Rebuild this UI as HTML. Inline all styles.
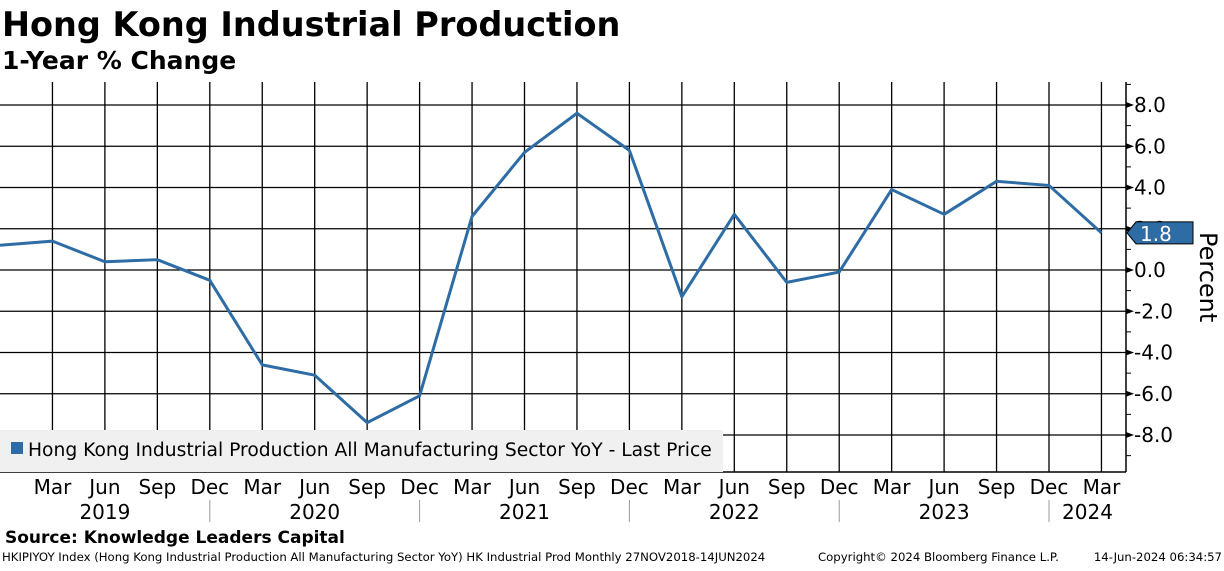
<!DOCTYPE html>
<html><head><meta charset="utf-8"><style>
body{margin:0;background:#fff;width:1224px;height:566px;overflow:hidden;font-family:"Liberation Sans","DejaVu Sans",sans-serif}
</style></head><body>
<svg width="1224" height="566" xmlns="http://www.w3.org/2000/svg">
<text x="2" y="36" font-size="33.5" font-weight="bold" font-family="DejaVu Sans, sans-serif">Hong Kong Industrial Production</text>
<text x="2" y="69" font-size="25" font-weight="bold" font-family="DejaVu Sans, sans-serif">1-Year % Change</text>
<g id="grid"></g>
<g id="xaxis"></g>
<g id="yaxis"></g>
<rect x="0" y="430" width="723" height="42" fill="#f0f0f0"/>
<rect x="11" y="442" width="12" height="12" fill="#2e6ca6"/>
<text x="28" y="456" font-size="18.7" font-family="DejaVu Sans, sans-serif">Hong Kong Industrial Production All Manufacturing Sector YoY - Last Price</text>
<g id="series"></g>
<text x="5" y="543" font-size="17" font-weight="bold" font-family="DejaVu Sans, sans-serif">Source: Knowledge Leaders Capital</text>
<text x="2" y="561" font-size="11.7" font-family="DejaVu Sans, sans-serif">HKIPIYOY Index (Hong Kong Industrial Production All Manufacturing Sector YoY) HK Industrial Prod  Monthly 27NOV2018-14JUN2024</text>
<text x="818" y="561" font-size="11.7" font-family="DejaVu Sans, sans-serif">Copyright© 2024 Bloomberg Finance L.P.</text>
<text x="1222" y="561" font-size="11.7" text-anchor="end" font-family="DejaVu Sans, sans-serif">14-Jun-2024 06:34:57</text>
<text transform="translate(1200,232) rotate(90)" font-size="24" font-family="DejaVu Sans, sans-serif">Percent</text>
</svg>
<script>
const quarters=["Dec","Mar","Jun","Sep","Dec","Mar","Jun","Sep","Dec","Mar","Jun","Sep","Dec","Mar","Jun","Sep","Dec","Mar","Jun","Sep","Dec","Mar"];
const values=[1.2,1.4,0.4,0.5,-0.5,-4.6,-5.1,-7.4,-6.1,2.6,5.7,7.6,5.8,-1.3,2.7,-0.6,-0.1,3.9,2.7,4.3,4.1,1.8];
const years=["2019","2020","2021","2022","2023","2024"];
const yTicks=[8,6,4,2,0,-2,-4,-6,-8];
const NS="http://www.w3.org/2000/svg";
const x0=0,dx=52.45,plotTop=82,plotBot=472,axisX=1126;
const xs=i=>x0+i*dx;
const ys=v=>270-v*20.625;
function mk(t,a,p){const e=document.createElementNS(NS,t);for(const k in a)e.setAttribute(k,a[k]);(p||document.querySelector('svg')).appendChild(e);return e;}
const grid=document.getElementById('grid'),xa=document.getElementById('xaxis'),ya=document.getElementById('yaxis'),ser=document.getElementById('series');
yTicks.forEach(v=>{
 const l=mk('line',{x1:0,x2:axisX,y1:ys(v),y2:ys(v),stroke:'#000','stroke-width':1.3},grid);
 
 
 const p=mk('polygon',{points:`${axisX},${ys(v)-3} ${axisX+8},${ys(v)} ${axisX},${ys(v)+3}`,fill:'#000'},ya);
 
 
 const t=mk('text',{x:axisX+8,y:ys(v)+7,'font-size':20,'font-family':'DejaVu Sans, sans-serif'},ya);
 t.textContent=(v<0?'-':'')+Math.abs(v).toFixed(1);
 
 
});
for(let v=-9;v<=9;v+=2){const m=mk('line',{x1:axisX,x2:axisX+5,y1:ys(v),y2:ys(v),stroke:'#000'},ya);}
const ax=mk('line',{x1:axisX,x2:axisX,y1:plotTop,y2:plotBot,stroke:'#000','stroke-width':1.5},ya);


const bx=mk('line',{x1:0,x2:axisX,y1:plotBot,y2:plotBot,stroke:'#000','stroke-width':1.5},xa);


quarters.forEach((q,i)=>{
 if(i===0)return;
 const l=mk('line',{x1:xs(i),x2:xs(i),y1:plotTop,y2:plotBot,stroke:'#000','stroke-width':1.3},grid);
 
 
 const t=mk('text',{x:xs(i),y:494,'font-size':20,'text-anchor':'middle','font-family':'DejaVu Sans, sans-serif'},xa);
 t.textContent=q;
 
 
});
years.forEach((y,k)=>{
 const start=xs(4*k),end=Math.min(xs(4*k+4),axisX);
 const t=mk('text',{x:(start+end)/2,y:519,'font-size':20,'text-anchor':'middle','font-family':'DejaVu Sans, sans-serif'},xa);
 t.textContent=y;
 
 
 if(k>0){const s=mk('line',{x1:start,x2:start,y1:500,y2:522,stroke:'#999'},xa);}
});
const path=mk('polyline',{points:values.map((v,i)=>xs(i)+','+ys(v)).join(' '),fill:'none',stroke:'#2e6ca6','stroke-width':3,'stroke-linejoin':'round'},ser);


const last=values[values.length-1],ly=ys(last);
const tag=mk('polygon',{points:`${axisX+1},${ly} ${axisX+10},${ly-11} ${1193},${ly-11} ${1193},${ly+11} ${axisX+10},${ly+11}`,fill:'#2e6ca6',stroke:'#000'},ser);


const tt=mk('text',{x:1140,y:ly+8,'font-size':20,fill:'#fff','font-family':'DejaVu Sans, sans-serif'},ser);
tt.textContent=last.toFixed(1);


</script>
</body></html>
